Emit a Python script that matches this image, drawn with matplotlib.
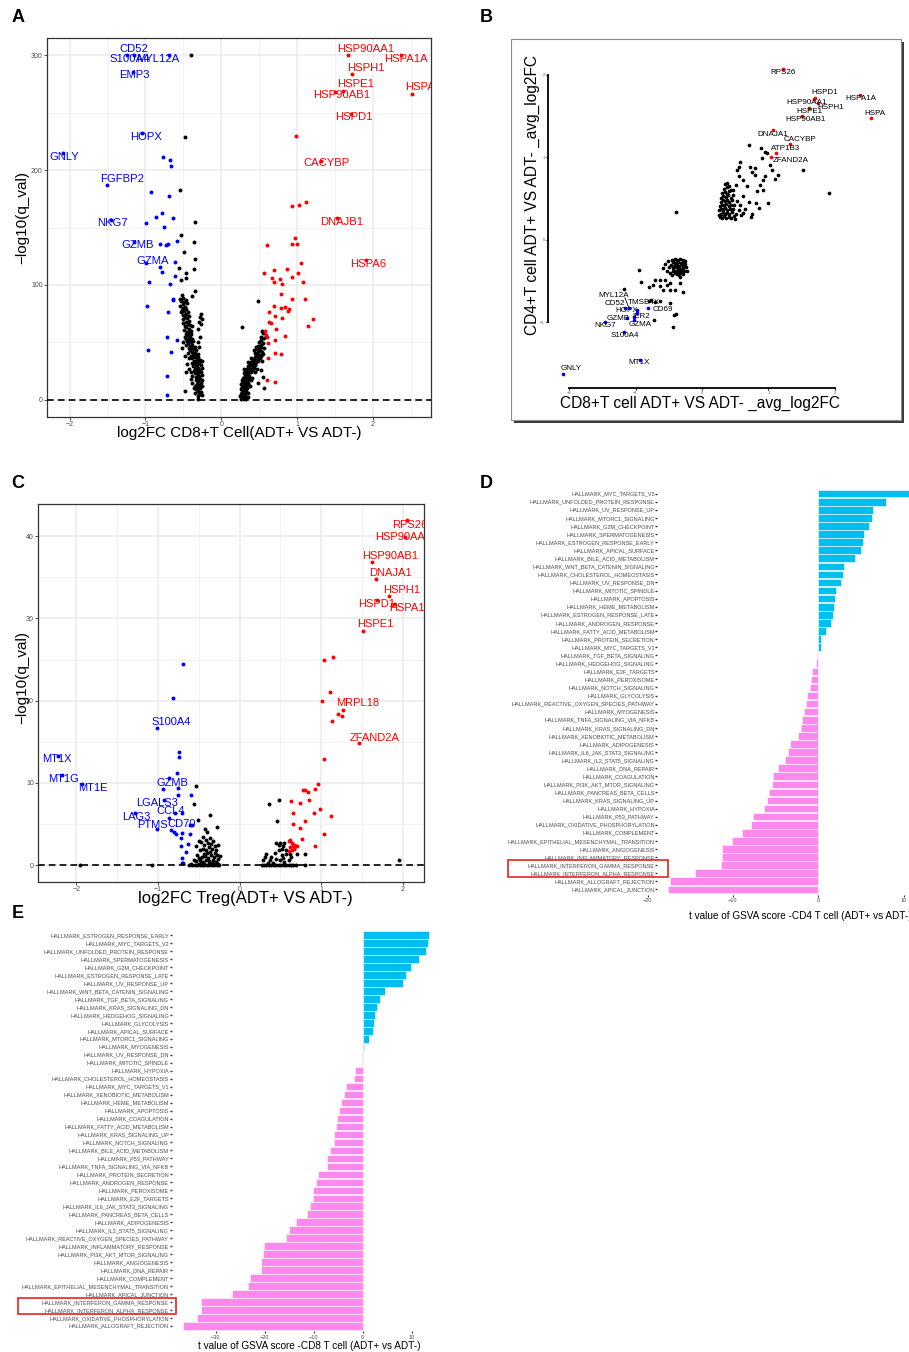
import numpy as np
import matplotlib
matplotlib.use("Agg")
import matplotlib.pyplot as plt
from matplotlib.patches import Rectangle

plt.rcParams['font.family'] = ['Liberation Sans', 'DejaVu Sans']

# -----------------------------
# Panel A data: CD8+T cell volcano (log2FC, -log10 q)
# -----------------------------
a_black = [
    (-0.52, 91), (-0.50, 89), (-0.55, 88), (-0.47, 87), (-0.53, 86), (-0.49, 85), (-0.51, 83), (-0.45, 84),
    (-0.54, 82), (-0.48, 81), (-0.50, 80), (-0.52, 78), (-0.46, 79), (-0.49, 77), (-0.53, 76), (-0.44, 76),
    (-0.47, 75), (-0.50, 74), (-0.42, 73), (-0.48, 72), (-0.45, 71), (-0.51, 70), (-0.43, 69), (-0.47, 68),
    (-0.27, 75), (-0.28, 72), (-0.26, 70), (-0.29, 68), (-0.27, 66), (-0.50, 67), (-0.44, 66), (-0.41, 65),
    (-0.48, 64), (-0.46, 63), (-0.38, 64), (-0.43, 62), (-0.49, 61), (-0.40, 60), (-0.30, 62), (-0.38, 90),
    (-0.45, 59), (-0.42, 58), (-0.47, 57), (-0.40, 57), (-0.44, 56), (-0.48, 55), (-0.41, 55), (-0.43, 54),
    (-0.46, 53), (-0.39, 53), (-0.42, 52), (-0.45, 51), (-0.37, 51), (-0.40, 50), (-0.44, 49), (-0.47, 48),
    (-0.38, 48), (-0.41, 47), (-0.35, 46), (-0.43, 45), (-0.39, 45), (-0.36, 44), (-0.41, 43), (-0.33, 43),
    (-0.38, 42), (-0.44, 41), (-0.35, 41), (-0.30, 40), (-0.52, 45), (-0.50, 50), (-0.28, 55), (-0.30, 50),
    (-0.29, 46), (-0.37, 39), (-0.33, 38), (-0.40, 38), (-0.35, 37), (-0.30, 37), (-0.38, 36), (-0.32, 35),
    (-0.36, 34), (-0.28, 35), (-0.34, 33), (-0.31, 33), (-0.39, 32), (-0.29, 32), (-0.35, 31), (-0.32, 30),
    (-0.27, 30), (-0.37, 29), (-0.33, 28), (-0.30, 28), (-0.35, 27), (-0.28, 26), (-0.32, 26), (-0.36, 25),
    (-0.30, 24), (-0.27, 24), (-0.34, 23), (-0.31, 22), (-0.29, 21), (-0.33, 20), (-0.26, 22), (-0.42, 36),
    (-0.45, 31), (-0.48, 38), (-0.43, 27), (-0.40, 24), (-0.38, 21), (-0.26, 28), (-0.25, 34), (-0.47, 24),
    (-0.31, 19), (-0.28, 18), (-0.33, 17), (-0.30, 16), (-0.27, 15), (-0.32, 14), (-0.29, 13), (-0.35, 12),
    (-0.26, 12), (-0.31, 11), (-0.28, 10), (-0.33, 9), (-0.30, 8), (-0.27, 7), (-0.34, 6), (-0.29, 5),
    (-0.26, 4), (-0.31, 3), (-0.30, 1), (-0.48, 8), (-0.38, 15), (-0.36, 10), (-0.25, 17), (-0.40, 18),
    (0.26, 1), (0.28, 2), (0.30, 1), (0.27, 3), (0.29, 4), (0.31, 3), (0.26, 5), (0.28, 6), (0.30, 5),
    (0.32, 6), (0.27, 7), (0.29, 8), (0.31, 7), (0.33, 8), (0.26, 9), (0.28, 10), (0.30, 9), (0.34, 10),
    (0.32, 4), (0.35, 2), (0.33, 1), (0.36, 6), (0.25, 3), (0.27, 11), (0.29, 12), (0.31, 11), (0.33, 12),
    (0.28, 13), (0.30, 14), (0.32, 13), (0.35, 14), (0.27, 15), (0.29, 16), (0.31, 15), (0.34, 16),
    (0.36, 15), (0.28, 17), (0.30, 18), (0.33, 17), (0.37, 18), (0.29, 19), (0.32, 19), (0.35, 20),
    (0.39, 17), (0.26, 14), (0.38, 12), (0.41, 19), (0.31, 21), (0.34, 22), (0.37, 21), (0.30, 23),
    (0.33, 24), (0.36, 23), (0.39, 24), (0.32, 25), (0.35, 26), (0.38, 25), (0.41, 26), (0.34, 27),
    (0.37, 28), (0.40, 27), (0.43, 28), (0.36, 29), (0.39, 30), (0.42, 29), (0.45, 30), (0.30, 27),
    (0.47, 27), (0.44, 24), (0.38, 31), (0.41, 32), (0.44, 31), (0.40, 33), (0.43, 34), (0.46, 33),
    (0.49, 34), (0.42, 35), (0.45, 36), (0.48, 35), (0.51, 36), (0.44, 37), (0.47, 38), (0.50, 37),
    (0.53, 38), (0.46, 39), (0.49, 40), (0.52, 39), (0.55, 40), (0.40, 36), (0.36, 33), (0.54, 34),
    (0.45, 41), (0.48, 42), (0.51, 43), (0.54, 42), (0.47, 44), (0.50, 45), (0.53, 46), (0.56, 45),
    (0.49, 47), (0.52, 48), (0.55, 49), (0.50, 50), (0.53, 52), (0.56, 54), (0.52, 55), (0.55, 58),
    (0.54, 60), (0.46, 46), (0.43, 43), (0.55, 20), (0.57, 10), (0.52, 26), (0.49, 15),
    (-0.34, 154.5), (-0.53, 143.5), (-0.36, 137), (-0.49, 128.4), (-0.34, 123), (-0.36, 113.6),
    (-0.56, 114.5), (-0.47, 110), (-0.53, 104), (-0.47, 106), (-0.34, 94.8), (-0.40, 300), (-0.475, 229),
    (-0.55, 183), (0.49, 86.4), (0.28, 63.2),
]
a_blue = [
    (-0.77, 211), (-0.68, 209), (-0.66, 203.5), (-0.93, 181), (-0.69, 177.7), (-0.86, 159.4), (-0.78, 163),
    (-0.64, 158), (-0.99, 153.6), (-0.76, 150.7), (-0.81, 136), (-0.73, 134.8), (-0.70, 136), (-0.58, 138.5),
    (-0.61, 119.7), (-0.81, 115.4), (-0.78, 111.3), (-0.61, 108), (-0.95, 102.9), (-0.68, 100.9),
    (-0.64, 87.5), (-0.63, 87), (-0.98, 82), (-0.70, 76), (-0.72, 54.5), (-0.59, 52), (-0.97, 43.5),
    (-0.66, 42), (-0.72, 21), (-0.72, 4.3),
]
a_red = [
    (0.99, 229.6), (0.94, 168.7), (1.03, 170), (1.12, 172), (0.97, 140.6), (0.94, 135.4), (1.00, 136),
    (0.61, 134.5), (1.05, 118.8), (0.87, 113.9), (0.70, 113), (0.57, 110), (1.02, 110), (0.94, 106.7),
    (0.67, 106), (0.78, 105.5), (0.70, 102.3), (0.80, 101), (1.08, 102.3), (0.79, 91.9), (0.93, 88),
    (1.10, 88), (0.70, 81.7), (0.79, 79.7), (0.84, 80.7), (0.90, 79), (0.88, 77.5), (0.63, 76.2),
    (0.71, 73.3), (0.80, 71), (1.21, 70), (1.14, 64.6), (0.63, 67.5), (0.66, 67), (0.72, 61.7), (0.58, 60),
    (0.60, 55), (0.84, 55.5), (0.71, 52.2), (0.62, 49), (0.71, 40.6), (0.79, 39.7), (0.62, 36),
    (0.60, 17.4), (0.71, 15.4), (0.59, 56.5),
]
a_down_genes = ["CD52", "S100A4", "MYL12A", "EMP3", "HOPX", "GNLY", "FGFBP2", "NKG7", "GZMB", "GZMA"]
a_down_x = [-1.15, -1.24, -0.69, -1.17, -1.04, -2.09, -1.51, -1.46, -1.15, -0.99]
a_down_y = [300, 300, 300, 285.5, 232, 215, 186.7, 156.5, 137.7, 118.8]
a_up_genes = ["HSP90AA1", "HSPA1A", "HSPH1", "HSPE1", "HSP90AB1", "HSPA1B", "HSPD1", "CACYBP", "DNAJB1", "HSPA6"]
a_up_x = [1.675, 2.38, 1.73, 1.61, 1.50, 2.52, 1.71, 1.32, 1.53, 1.91]
a_up_y = [300, 300, 284, 269, 268, 266, 249, 208, 158, 121.7]

# -----------------------------
# Panel B data: CD8 vs CD4 avg_log2FC
# -----------------------------
b_black = [
    (0.27, 0.28), (0.30, 0.27), (0.33, 0.29), (0.36, 0.27), (0.40, 0.28), (0.44, 0.27), (0.48, 0.29),
    (0.28, 0.32), (0.31, 0.34), (0.34, 0.31), (0.37, 0.33), (0.41, 0.32), (0.45, 0.34), (0.51, 0.31),
    (0.26, 0.36), (0.29, 0.38), (0.32, 0.37), (0.35, 0.39), (0.38, 0.36), (0.42, 0.38), (0.46, 0.37),
    (0.55, 0.36), (0.27, 0.41), (0.30, 0.43), (0.33, 0.42), (0.36, 0.44), (0.40, 0.41), (0.43, 0.43),
    (0.48, 0.42), (0.28, 0.46), (0.31, 0.48), (0.34, 0.47), (0.38, 0.49), (0.41, 0.46), (0.45, 0.48),
    (0.52, 0.47), (0.29, 0.51), (0.32, 0.53), (0.36, 0.52), (0.39, 0.54), (0.43, 0.51), (0.47, 0.55),
    (0.30, 0.57), (0.34, 0.58), (0.37, 0.56), (0.41, 0.59), (0.33, 0.62), (0.38, 0.64), (0.44, 0.61),
    (0.35, 0.68), (0.41, 0.66), (0.58, 0.30), (0.62, 0.33), (0.25, 0.30), (0.50, 0.26), (0.57, 0.42),
    (0.71, 1.15), (0.89, 1.11), (0.95, 1.07), (0.97, 1.06), (0.90, 0.99), (1.02, 0.91), (1.06, 0.85),
    (1.15, 0.79), (1.10, 0.74), (1.52, 0.85), (1.91, 0.57), (0.57, 0.95), (0.56, 0.89), (0.53, 0.85),
    (0.72, 0.89), (0.80, 0.87), (0.75, 0.82), (0.80, 0.79), (0.95, 0.77), (0.91, 0.73), (0.87, 0.67),
    (0.92, 0.61), (0.82, 0.59), (1.00, 0.45), (0.86, 0.39), (0.81, 0.45), (-0.39, 0.34), (0.56, 0.77),
    (0.62, 0.73), (0.67, 0.65), (0.51, 0.67), (0.47, 0.61), (0.37, 0.69), (0.62, 0.53), (0.70, 0.46),
    (0.65, 0.38), (0.75, 0.32), (0.73, 0.28),
    (-0.45, -0.24), (-0.41, -0.23), (-0.37, -0.24), (-0.33, -0.23), (-0.29, -0.24), (-0.26, -0.25),
    (-0.44, -0.27), (-0.40, -0.28), (-0.36, -0.27), (-0.32, -0.28), (-0.28, -0.27), (-0.25, -0.29),
    (-0.46, -0.30), (-0.42, -0.31), (-0.38, -0.30), (-0.34, -0.31), (-0.30, -0.30), (-0.27, -0.32),
    (-0.44, -0.34), (-0.40, -0.33), (-0.36, -0.34), (-0.32, -0.35), (-0.28, -0.34), (-0.24, -0.33),
    (-0.43, -0.37), (-0.39, -0.38), (-0.35, -0.37), (-0.31, -0.38), (-0.27, -0.37), (-0.41, -0.40),
    (-0.37, -0.41), (-0.33, -0.40), (-0.29, -0.41), (-0.50, -0.33), (-0.53, -0.37), (-0.48, -0.40),
    (-0.55, -0.29), (-0.51, -0.26), (-0.23, -0.38), (-0.45, -0.42), (-0.58, -0.34), (-0.35, -0.43),
    (-0.94, -0.36), (-0.91, -0.51), (-0.79, -0.57), (-0.74, -0.55), (-0.70, -0.49), (-0.63, -0.56),
    (-0.59, -0.61), (-0.53, -0.55), (-0.48, -0.61), (-0.40, -0.61), (-0.29, -0.63), (-0.33, -0.52),
    (-0.48, -0.52), (-0.56, -0.48), (-0.63, -0.48), (-1.17, -0.59), (-0.79, -0.74), (-0.76, -0.73),
    (-0.71, -0.75), (-0.63, -0.74), (-0.48, -0.76), (-0.42, -0.91), (-0.39, -0.90), (-0.72, -0.97),
    (-0.43, -1.05), (-0.33, -0.45),
]
b_up_genes = ["RPS26", "HSPD1", "HSP90AA1", "HSPH1", "HSPE1", "HSP90AB1", "HSPA1A", "HSPA1B",
              "DNAJA1", "CACYBP", "ATP1B3", "ZFAND2A"]
b_up_x = [1.22, 1.70, 1.68, 1.74, 1.61, 1.50, 2.38, 2.54, 1.07, 1.32, 1.12, 1.04]
b_up_y = [2.07, 1.72, 1.71, 1.66, 1.60, 1.50, 1.76, 1.48, 1.33, 1.16, 1.05, 1.01]
b_down_genes = ["MYL12A", "CD52", "TMSB4X", "HOPX", "CD69", "IER2", "GZMB", "GZMA", "NKG7",
                "S100A4", "MT1X", "GNLY"]
b_down_x = [-1.10, -1.16, -0.98, -1.03, -0.81, -0.98, -1.13, -1.02, -1.46, -1.17, -0.93, -2.09]
b_down_y = [-0.82, -0.82, -0.85, -0.93, -0.83, -0.88, -0.95, -0.97, -1.00, -1.11, -1.45, -1.62]

# -----------------------------
# Panel C data: Treg volcano
# -----------------------------
c_black = [
    (-0.62, 0), (-0.58, 0), (-0.55, 0), (-0.52, 0), (-0.49, 0), (-0.46, 0), (-0.43, 0), (-0.40, 0),
    (-0.37, 0), (-0.34, 0), (-0.31, 0), (-0.28, 0), (-0.25, 0), (-0.60, 0.1), (-0.50, 0.2), (-0.44, 0.15),
    (-0.38, 0.2), (-0.32, 0.1), (-0.27, 0.2), (-0.53, 0.5), (-0.48, 0.6), (-0.45, 0.4), (-0.41, 0.7),
    (-0.37, 0.5), (-0.33, 0.6), (-0.29, 0.4), (-0.26, 0.8), (-0.50, 0.9), (-0.46, 1.0), (-0.42, 1.1),
    (-0.39, 0.9), (-0.35, 1.2), (-0.31, 1.0), (-0.28, 1.3), (-0.52, 1.3), (-0.44, 1.4), (-0.40, 1.5),
    (-0.36, 1.6), (-0.47, 0.3), (-0.34, 0.3), (-0.30, 1.5), (-0.24, 1.1), (-0.56, 0.7), (-0.49, 1.8),
    (-0.45, 2.0), (-0.41, 1.9), (-0.38, 2.2), (-0.34, 2.0), (-0.30, 2.3), (-0.43, 2.5), (-0.39, 2.7),
    (-0.35, 2.6), (-0.47, 2.8), (-0.41, 3.1), (-0.36, 3.3), (-0.32, 2.9), (-0.27, 2.5), (-0.53, 2.3),
    (-0.50, 3.0), (-0.29, 1.9), (-0.45, 3.4), (-0.53, 9.65), (-0.56, 7.4), (-0.36, 6.1), (-0.51, 5.5),
    (-0.28, 4.7), (-0.42, 4.4), (-0.40, 4.0), (-1.07, 0), (-1.95, 0), (-0.71, 0.3),
    (0.27, 0), (0.30, 0), (0.33, 0), (0.36, 0), (0.39, 0), (0.42, 0), (0.45, 0), (0.48, 0), (0.51, 0),
    (0.54, 0), (0.57, 0), (0.60, 0), (0.63, 0), (0.66, 0), (0.69, 0), (0.80, 0), (0.36, 7.4), (0.48, 7.9),
    (0.46, 5.35), (0.45, 2.76), (0.50, 2.76), (0.48, 2.5), (0.54, 2.7), (0.53, 2.3), (0.48, 1.9),
    (0.52, 2.0), (0.57, 1.9), (0.62, 1.4), (0.57, 1.4), (0.33, 1.4), (0.31, 1.0), (0.38, 1.0), (0.52, 1.2),
    (0.53, 0.9), (0.63, 1.0), (0.70, 1.4), (0.80, 1.4), (0.45, 0.8), (0.50, 0.6), (0.37, 0.7), (0.29, 0.7),
    (0.41, 0.3), (0.35, 0.3), (0.44, 1.5), (0.55, 0.4), (0.60, 0.6), (1.95, 0.6),
]
c_blue = [
    (-0.69, 24.45), (-0.82, 20.3), (-0.74, 13.8), (-0.74, 13.1), (-0.77, 11.2), (-0.94, 9.25), (-0.76, 9.45),
    (-0.76, 8.5), (-0.59, 8.5), (-0.71, 6.4), (-0.86, 5.8), (-0.61, 4.9), (-0.84, 4.3), (-0.80, 4.0),
    (-0.71, 3.9), (-0.78, 3.8), (-0.61, 3.8), (-0.72, 3.3), (-0.72, 2.3), (-0.63, 2.6), (-0.66, 1.6),
    (-0.70, 0.9), (-0.69, 0.3),
]
c_red = [
    (1.03, 24.9), (1.15, 25.3), (1.11, 21.1), (1.01, 19.95), (1.21, 18.4), (1.26, 18.2), (1.13, 17.55),
    (1.04, 12.9), (0.96, 9.9), (0.92, 9.3), (0.84, 8.9), (0.80, 9.2), (0.78, 9.1), (0.85, 7.9), (0.74, 7.6),
    (0.63, 7.8), (0.98, 6.9), (0.91, 6.4), (0.65, 6.3), (0.80, 5.4), (0.66, 5.0), (1.12, 6.0), (0.74, 4.5),
    (1.03, 3.85), (0.76, 3.2), (0.93, 2.4), (0.62, 3.1), (0.60, 2.9), (0.64, 2.65), (0.67, 2.5), (0.70, 2.4),
    (0.65, 2.3), (0.62, 2.2), (0.69, 2.3), (0.64, 1.9), (0.61, 1.7), (0.67, 2.0),
]
c_down_genes = ["MT1X", "MT1G", "MT1E", "S100A4", "GZMB", "LGALS3", "CCL4", "LAG3", "PTMS", "CD70"]
c_down_x = [-2.22, -2.18, -1.93, -1.01, -0.86, -0.93, -0.79, -1.28, -1.01, -0.58]
c_down_y = [13.3, 10.95, 9.85, 16.7, 10.55, 7.9, 6.37, 6.3, 4.46, 4.87]
c_up_genes = ["RPS26", "HSP90AA1", "HSP90AB1", "DNAJA1", "HSPH1", "HSPD1", "HSPA1A", "HSPE1", "MRPL18", "ZFAND2A"]
c_up_x = [2.05, 2.03, 1.62, 1.67, 1.83, 1.68, 1.89, 1.51, 1.27, 1.46]
c_up_y = [42, 39.9, 36.8, 34.75, 32.7, 32.2, 31.8, 28.5, 18.9, 14.8]

# -----------------------------
# Panel D data: GSVA t values, CD4 T cell
# -----------------------------
d_terms = [
    "MYC_TARGETS_V2", "UNFOLDED_PROTEIN_RESPONSE", "UV_RESPONSE_UP", "MTORC1_SIGNALING", "G2M_CHECKPOINT",
    "SPERMATOGENESIS", "ESTROGEN_RESPONSE_EARLY", "APICAL_SURFACE", "BILE_ACID_METABOLISM",
    "WNT_BETA_CATENIN_SIGNALING", "CHOLESTEROL_HOMEOSTASIS", "UV_RESPONSE_DN", "MITOTIC_SPINDLE",
    "APOPTOSIS", "HEME_METABOLISM", "ESTROGEN_RESPONSE_LATE", "ANDROGEN_RESPONSE", "FATTY_ACID_METABOLISM",
    "PROTEIN_SECRETION", "MYC_TARGETS_V1", "TGF_BETA_SIGNALING", "HEDGEHOG_SIGNALING", "E2F_TARGETS",
    "PEROXISOME", "NOTCH_SIGNALING", "GLYCOLYSIS", "REACTIVE_OXYGEN_SPECIES_PATHWAY", "MYOGENESIS",
    "TNFA_SIGNALING_VIA_NFKB", "KRAS_SIGNALING_DN", "XENOBIOTIC_METABOLISM", "ADIPOGENESIS",
    "IL6_JAK_STAT3_SIGNALING", "IL2_STAT5_SIGNALING", "DNA_REPAIR", "COAGULATION", "PI3K_AKT_MTOR_SIGNALING",
    "PANCREAS_BETA_CELLS", "KRAS_SIGNALING_UP", "HYPOXIA", "P53_PATHWAY", "OXIDATIVE_PHOSPHORYLATION",
    "COMPLEMENT", "EPITHELIAL_MESENCHYMAL_TRANSITION", "ANGIOGENESIS", "INFLAMMATORY_RESPONSE",
    "INTERFERON_GAMMA_RESPONSE", "INTERFERON_ALPHA_RESPONSE", "ALLOGRAFT_REJECTION", "APICAL_JUNCTION",
]
d_t = [
    11.5, 7.94, 6.37, 6.33, 5.94, 5.36, 5.24, 5.0, 4.3, 3.01, 2.93, 2.66, 2.07, 1.95, 1.84, 1.76, 1.45, 0.9,
    0.37, 0.33, -0.12, -0.31, -0.70, -0.82, -0.98, -1.29, -1.48, -1.64, -1.95, -2.03, -2.42, -3.32, -3.59,
    -3.91, -4.77, -5.28, -5.43, -5.82, -5.98, -6.41, -7.66, -7.94, -8.98, -10.15, -11.33, -11.33, -11.45,
    -14.5, -17.4, -17.6,
]

# -----------------------------
# Panel E data: GSVA t values, CD8 T cell
# -----------------------------
e_terms = [
    "ESTROGEN_RESPONSE_EARLY", "MYC_TARGETS_V2", "UNFOLDED_PROTEIN_RESPONSE", "SPERMATOGENESIS",
    "G2M_CHECKPOINT", "ESTROGEN_RESPONSE_LATE", "UV_RESPONSE_UP", "WNT_BETA_CATENIN_SIGNALING",
    "TGF_BETA_SIGNALING", "KRAS_SIGNALING_DN", "HEDGEHOG_SIGNALING", "GLYCOLYSIS", "APICAL_SURFACE",
    "MTORC1_SIGNALING", "MYOGENESIS", "UV_RESPONSE_DN", "MITOTIC_SPINDLE", "HYPOXIA",
    "CHOLESTEROL_HOMEOSTASIS", "MYC_TARGETS_V1", "XENOBIOTIC_METABOLISM", "HEME_METABOLISM", "APOPTOSIS",
    "COAGULATION", "FATTY_ACID_METABOLISM", "KRAS_SIGNALING_UP", "NOTCH_SIGNALING", "BILE_ACID_METABOLISM",
    "P53_PATHWAY", "TNFA_SIGNALING_VIA_NFKB", "PROTEIN_SECRETION", "ANDROGEN_RESPONSE", "PEROXISOME",
    "E2F_TARGETS", "IL6_JAK_STAT3_SIGNALING", "PANCREAS_BETA_CELLS", "ADIPOGENESIS", "IL2_STAT5_SIGNALING",
    "REACTIVE_OXYGEN_SPECIES_PATHWAY", "INFLAMMATORY_RESPONSE", "PI3K_AKT_MTOR_SIGNALING", "ANGIOGENESIS",
    "DNA_REPAIR", "COMPLEMENT", "EPITHELIAL_MESENCHYMAL_TRANSITION", "APICAL_JUNCTION",
    "INTERFERON_GAMMA_RESPONSE", "INTERFERON_ALPHA_RESPONSE", "OXIDATIVE_PHOSPHORYLATION",
    "ALLOGRAFT_REJECTION",
]
e_t = [
    13.5, 13.3, 13.0, 11.5, 9.86, 8.8, 8.2, 4.55, 3.47, 3.0, 2.6, 2.24, 2.18, 1.22, 0.2, -0.05, -0.15,
    -1.57, -1.77, -3.47, -3.88, -4.49, -4.9, -5.24, -5.51, -5.85, -5.85, -6.67, -7.21, -7.21, -9.18,
    -9.45, -10.07, -10.14, -10.82, -11.43, -13.7, -15.1, -15.65, -20.1, -20.3, -20.7, -20.8, -23.1, -23.5,
    -26.6, -32.9, -33.0, -33.8, -36.7,
]

# -----------------------------
# Layout (pixel boxes) and label placement
# -----------------------------
W, H = 909, 1352
fig = plt.figure(figsize=(W / 100, H / 100), dpi=100)


def axes_px(l, t, r, b):
    return fig.add_axes([l / W, 1 - b / H, (r - l) / W, (b - t) / H])


def fig_rect(l, t, r, b, **kw):
    rect = Rectangle((l / W, 1 - b / H), (r - l) / W, (b - t) / H, transform=fig.transFigure, **kw)
    fig.patches.append(rect)


a_label_pos = {
    "CD52": (-1.15, 305.8), "S100A4": (-1.21, 296.5), "MYL12A": (-0.84, 296.5), "EMP3": (-1.14, 282.6),
    "HOPX": (-0.99, 229), "GNLY": (-2.07, 211.6), "FGFBP2": (-1.31, 191.9), "NKG7": (-1.43, 153.6),
    "GZMB": (-1.10, 134.8), "GZMA": (-0.91, 120.9), "HSP90AA1": (1.91, 305.8), "HSPA1A": (2.44, 296.5),
    "HSPH1": (1.91, 289.3), "HSPE1": (1.77, 274.8), "HSP90AB1": (1.59, 265.2), "HSPA1B": (2.71, 271.9),
    "HSPD1": (1.75, 246.4), "CACYBP": (1.39, 205.8), "DNAJB1": (1.59, 155), "HSPA6": (1.94, 118.3),
}
b_label_pos = {
    "RPS26": (1.22, 2.03), "HSPD1": (1.85, 1.79), "HSP90AA1": (1.57, 1.67), "HSPH1": (1.94, 1.61),
    "HSPE1": (1.61, 1.56), "HSP90AB1": (1.55, 1.46), "HSPA1A": (2.39, 1.71), "HSPA1B": (2.68, 1.53),
    "DNAJA1": (1.07, 1.28), "CACYBP": (1.47, 1.22), "ATP1B3": (1.26, 1.11), "ZFAND2A": (1.33, 0.96),
    "MYL12A": (-1.33, -0.67), "CD52": (-1.31, -0.77), "TMSB4X": (-0.88, -0.76), "HOPX": (-1.14, -0.86),
    "CD69": (-0.59, -0.84), "IER2": (-0.91, -0.93), "GZMB": (-1.26, -0.95), "GZMA": (-0.93, -1.02),
    "NKG7": (-1.46, -1.04), "S100A4": (-1.16, -1.16), "MT1X": (-0.95, -1.49), "GNLY": (-1.97, -1.56),
}
c_label_pos = {
    "RPS26": (2.09, 41.4), "HSP90AA1": (2.00, 39.9), "HSP90AB1": (1.84, 37.6), "DNAJA1": (1.85, 35.5),
    "HSPH1": (1.99, 33.5), "HSPD1": (1.68, 31.8), "HSPA1A": (2.09, 31.3), "HSPE1": (1.66, 29.3),
    "MRPL18": (1.45, 19.75), "ZFAND2A": (1.65, 15.5), "S100A4": (-0.84, 17.4), "MT1X": (-2.24, 12.9),
    "MT1G": (-2.16, 10.5), "MT1E": (-1.80, 9.45), "GZMB": (-0.82, 10.0), "LGALS3": (-1.01, 7.6),
    "CCL4": (-0.85, 6.6), "LAG3": (-1.26, 5.9), "PTMS": (-1.07, 4.87), "CD70": (-0.71, 5.0),
}


# -----------------------------
# Volcano helper (ggplot theme_bw look)
# -----------------------------
def volcano(ax, black, blue, red, down, up, label_pos, xlim, ylim, yticks, yminor, fs):
    ax.set_xticks([-2, -1, 0, 1, 2])
    ax.set_xticks([-1.5, -0.5, 0.5, 1.5, 2.5], minor=True)
    ax.set_yticks(yticks)
    ax.set_yticks(yminor, minor=True)
    # limits after the ticks, so out-of-range minor ticks don't widen the view
    ax.set_xlim(*xlim)
    ax.set_ylim(*ylim)
    ax.grid(which='major', color='#EBEBEB', lw=1.1)
    ax.grid(which='minor', color='#F0F0F0', lw=0.6)
    ax.set_axisbelow(True)
    ax.tick_params(which='minor', length=0)
    ax.tick_params(which='major', length=2, width=0.6, color='#333333', labelsize=5, labelcolor='#4D4D4D', pad=1)
    for s in ax.spines.values():
        s.set_color('#333333')
        s.set_linewidth(0.9)
    for pts, col in ((black, 'black'), (blue, 'blue'), (red, 'red')):
        x, y = np.array(pts).T
        ax.scatter(x, y, s=8, c=col, linewidths=0, zorder=3)
    for (genes, gx, gy), col in ((down, 'blue'), (up, 'red')):
        ax.scatter(gx, gy, s=8, c=col, linewidths=0, zorder=3)
        for g in genes:
            lx, ly = label_pos[g]
            ax.text(lx, ly, g, color=col, fontsize=fs, ha='center', va='center', zorder=5,
                    clip_on=True, clip_box=ax.bbox)
    ax.axhline(0, color='black', lw=1.2, ls=(0, (4, 2.5)), zorder=4)


# Panel A
ax_a = axes_px(47, 38, 431, 417)
volcano(ax_a, a_black, a_blue, a_red, (a_down_genes, a_down_x, a_down_y), (a_up_genes, a_up_x, a_up_y),
        a_label_pos, (-2.3, 2.77), (-15, 315), [0, 100, 200, 300], [50, 150, 250], 8.1)
fig.text(239 / W, 1 - 433 / H, "log2FC CD8+T Cell(ADT+ VS ADT-)", fontsize=11, ha='center', va='center')
fig.text(22 / W, 1 - 218 / H, "\u2212log10(q_val)", fontsize=11, rotation=90, ha='center', va='center')

# Panel C
ax_c = axes_px(38, 504, 424, 882)
volcano(ax_c, c_black, c_blue, c_red, (c_down_genes, c_down_x, c_down_y), (c_up_genes, c_up_x, c_up_y),
        c_label_pos, (-2.47, 2.26), (-2.03, 43.9), [0, 10, 20, 30, 40], [5, 15, 25, 35], 8)
fig.text(245 / W, 1 - 898 / H, "log2FC Treg(ADT+ VS ADT-)", fontsize=12, ha='center', va='center')
fig.text(22 / W, 1 - 677 / H, "\u2212log10(q_val)", fontsize=11, rotation=90, ha='center', va='center')

# -----------------------------
# Panel B: framed scatter with range axes
# -----------------------------
fig_rect(514, 42, 904, 423, facecolor='#3A3A3A', edgecolor='none', zorder=-2)
fig_rect(511, 39, 901, 420, facecolor='white', edgecolor='#8C8C8C', lw=0.8, zorder=-1)
ax_b = axes_px(548, 50, 885, 388)
ax_b.patch.set_alpha(0)
ax_b.set_xticks([-2, -1, 0, 1, 2])
ax_b.set_yticks([-1, 0, 1, 2])
ax_b.set_xlim(-2.316, 2.752)
ax_b.set_ylim(-1.794, 2.303)
for s in ('top', 'right'):
    ax_b.spines[s].set_visible(False)
ax_b.spines['left'].set_bounds(-1, 2)
ax_b.spines['bottom'].set_bounds(-2, 2)
for s in ('left', 'bottom'):
    ax_b.spines[s].set_linewidth(1.3)
ax_b.tick_params(length=1.5, width=0.8, labelsize=3, pad=0.8, labelcolor='#555555')
bx, by = np.array(b_black).T
ax_b.scatter(bx, by, s=7, c='black', linewidths=0, zorder=3)
ax_b.scatter(b_up_x, b_up_y, s=7, c='red', linewidths=0, zorder=3)
ax_b.scatter(b_down_x, b_down_y, s=7, c='blue', linewidths=0, zorder=3)
ax_b.plot([-1.16, -1.10], [-0.70, -0.82], color='black', lw=0.6, zorder=2)
for g in b_up_genes + b_down_genes:
    lx, ly = b_label_pos[g]
    ax_b.text(lx, ly, g, fontsize=5.8, ha='center', va='center', zorder=5, clip_on=True, clip_box=ax_b.bbox)
fig.text(700 / W, 1 - 403 / H, "CD8+T cell ADT+ VS ADT- _avg_log2FC", fontsize=11.2, ha='center', va='center')
fig.text(532 / W, 1 - 195 / H, "CD4+T cell ADT+ VS ADT- _avg_log2FC", fontsize=11.2, rotation=90,
         ha='center', va='center')


# -----------------------------
# GSVA bar helper
# -----------------------------
def gsva_bars(ax, terms, tvals, xlim, xticks, spine_x):
    n = len(terms)
    pos = np.arange(n)
    cols = ['#00BFF0' if v > 0 else '#FF88EE' for v in tvals]
    ax.barh(pos, tvals, height=0.94, color=cols, edgecolor='white', linewidth=0.4)
    ax.set_yticks(pos, ["HALLMARK_" + t for t in terms])
    ax.set_xticks(xticks)
    ax.set_ylim(n - 0.3, -0.7)
    ax.set_xlim(*xlim)
    for s in ax.spines.values():
        s.set_visible(False)
    ax.spines['left'].set_position(('data', spine_x))
    ax.tick_params(axis='y', length=1.5, width=1.0, color='#333333', labelsize=4, labelcolor='#4D4D4D', pad=0.5)
    ax.tick_params(axis='x', length=1.5, width=0.8, color='#333333', labelsize=4, labelcolor='#4D4D4D', pad=0.8)
    ax.patch.set_alpha(0)


# Panel D (right edge runs past the figure, as in the cropped original)
ax_d = axes_px(643.4, 488.0, 924.9, 895.0)
gsva_bars(ax_d, d_terms, d_t, (-20.5, 12.5), [-20, -10, 0, 10], -18.85)
fig.text(800 / W, 1 - 915.7 / H, "t value of GSVA score -CD4 T cell (ADT+ vs ADT-)", fontsize=7.2,
         ha='center', va='center')
fig_rect(508, 860, 668, 876.7, facecolor='none', edgecolor='#E8231E', lw=1.2)

# Panel E
ax_e = axes_px(166.7, 929.6, 436.2, 1331.4)
gsva_bars(ax_e, e_terms, e_t, (-40, 15), [-30, -20, -10, 0, 10], -39.0)
fig.text(309.7 / W, 1 - 1346 / H, "t value of GSVA score -CD8 T cell (ADT+ vs ADT-)", fontsize=7.2,
         ha='center', va='center')
fig_rect(18, 1297.7, 176, 1314.3, facecolor='none', edgecolor='#E8231E', lw=1.2)

# -----------------------------
# Panel letters
# -----------------------------
for letter, (px, py) in {"A": (18, 18), "B": (486, 18), "C": (18, 484), "D": (486, 484), "E": (18, 914)}.items():
    fig.text(px / W, 1 - py / H, letter, fontsize=13, fontweight='bold', ha='center', va='center')

fig.savefig("out.png", dpi=100)
